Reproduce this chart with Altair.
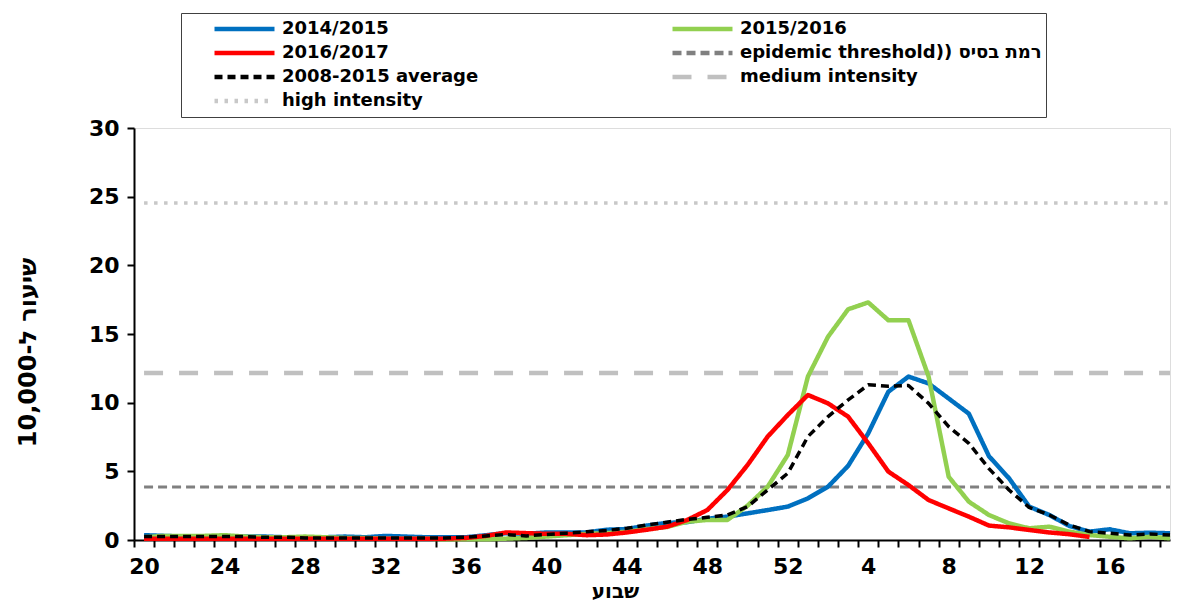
import json
import altair as alt
import pandas as pd

# ---- data ----
weeks = list(range(20, 53)) + list(range(1, 20))          # 52 ISO weeks, season order
tick_weeks = [20, 24, 28, 32, 36, 40, 44, 48, 52, 4, 8, 12, 16]
y_ticks = [0, 5, 10, 15, 20, 25, 30]

names = ["2014/2015", "2015/2016", "2016/2017",
         "epidemic threshold)) רמת בסיס", "2008-2015 average",
         "medium intensity", "high intensity"]
colors = ["#0070C0", "#92D050", "#FF0000", "#808080", "#000000", "#C0C0C0", "#C8C8C8"]
dashes = [[1, 0], [1, 0], [1, 0], [9, 5], [8, 5], [19, 16], [3.5, 6.5]]
widths = [4.5, 4.5, 4.5, 3, 3.5, 4.5, 3.5]

s2014_2015 = [0.35, 0.3, 0.25, 0.15, 0.15, 0.25, 0.25, 0.2, 0.2, 0.2, 0.25, 0.2, 0.3, 0.25, 0.2, 0.2, 0.2,
              0.35, 0.5, 0.45, 0.55, 0.55, 0.55, 0.75, 0.8, 1.05, 1.25, 1.3,
              1.55, 1.7, 1.94, 2.18, 2.43, 3.03, 3.88, 5.4, 7.77, 10.8, 11.9, 11.4, 10.3, 9.2, 6.1,
              4.49, 2.43, 1.82, 1.02, 0.61, 0.78, 0.49, 0.53, 0.49]
s2015_2016 = [0.2, 0.3, 0.3, 0.3, 0.35, 0.25, 0.2, 0.2, 0.25, 0.2, 0.15, 0.15, 0.1, 0.1, 0.1, 0.05, 0.05,
              0.05, 0.1, 0.15, 0.25, 0.35, 0.45, 0.5, 0.6, 0.8, 0.95, 1.33,
              1.46, 1.46, 2.5, 3.88, 6.19, 11.9, 14.8, 16.8, 17.3, 16.0, 16.0, 11.9, 4.6, 2.79, 1.82,
              1.21, 0.85, 0.97, 0.61, 0.36, 0.24, 0.12, 0.24, 0.12]
s2016_2017 = [0.1, 0.1, 0.1, 0.1, 0.1, 0.1, 0.1, 0.1, 0.1, 0.1, 0.1, 0.1, 0.1, 0.1, 0.1, 0.1, 0.15,
              0.3, 0.55, 0.5, 0.45, 0.45, 0.35, 0.4, 0.55, 0.75, 0.97, 1.46,
              2.18, 3.64, 5.46, 7.53, 9.1, 10.56, 9.95, 8.98, 7.04, 4.98, 4.0, 2.91, 2.3, 1.7, 1.05,
              0.92, 0.73, 0.55, 0.42, 0.22]
avg_2008_2015 = [0.25, 0.25, 0.25, 0.25, 0.25, 0.25, 0.2, 0.2, 0.15, 0.15, 0.15, 0.15, 0.15, 0.15, 0.15, 0.15, 0.2,
                 0.3, 0.4, 0.3, 0.4, 0.5, 0.6, 0.7, 0.85, 1.1, 1.3, 1.5,
                 1.65, 1.82, 2.43, 3.64, 4.86, 7.53, 8.98, 10.2, 11.3, 11.2, 11.25, 9.95, 8.25, 7.04, 5.2,
                 3.64, 2.38, 1.82, 1.09, 0.61, 0.49, 0.36, 0.44, 0.36]
epidemic_threshold = 3.86
medium_intensity = 12.16
high_intensity = 24.54

# ---- table ----
rows = []
def add(name, values):
    for i, v in enumerate(values):
        rows.append({"idx": i, "week": weeks[i], "value": v, "series": name})

add(names[0], s2014_2015)
add(names[1], s2015_2016)
add(names[2], s2016_2017)
add(names[3], [epidemic_threshold] * len(weeks))
add(names[4], avg_2008_2015)
add(names[5], [medium_intensity] * len(weeks))
add(names[6], [high_intensity] * len(weeks))
df = pd.DataFrame(rows)

# tick labels every 4th week, placed at category centres
lab = [str(w) if (w in tick_weeks and i % 4 == 0) else "" for i, w in enumerate(weeks)]
boundaries = [i - 0.5 for i in range(len(weeks))]

W, H = 1036, 412
x_dom = [-0.5, 51.0]
half_band = W / (x_dom[1] - x_dom[0]) / 2

FONT = "DejaVu Sans"

legend = alt.Legend(
    title=None, orient="none", legendX=47, legendY=-115, columns=2, direction="horizontal",
    symbolType="stroke", symbolSize=3600, symbolStrokeWidth=4.5, symbolOffset=27,
    clipHeight=24, rowPadding=0, columnPadding=164,
    labelFont=FONT, labelFontSize=18, labelFontWeight="bold", labelColor="black",
    labelOffset=5, labelLimit=500, padding=4,
    strokeColor="#404040", fillColor="white",
)

x_enc = alt.X("idx:Q",
              scale=alt.Scale(domain=x_dom, nice=False, zero=False),
              axis=alt.Axis(values=boundaries, labelExpr=f"{json.dumps(lab)}[round(datum.value + 0.5)]",
                            labelOffset=half_band, tickSize=7, tickWidth=2, tickColor="black",
                            domainWidth=2, domainColor="black", grid=False,
                            labelFont=FONT, labelFontSize=22, labelFontWeight="bold", labelColor="black",
                            labelPadding=9, labelOverlap=False, labelFlush=False, labelBound=False,
                            title="שבוע", titleFont=FONT, titleFontSize=20, titleFontWeight="bold",
                            titleColor="black", titleX=481, titleY=61, titleBaseline="bottom",
                            titleAlign="center"))
y_enc = alt.Y("value:Q",
              scale=alt.Scale(domain=[0, 30], nice=False),
              axis=alt.Axis(values=y_ticks, tickSize=7, tickWidth=2, tickColor="black",
                            domainWidth=2, domainColor="black", grid=False,
                            labelFont=FONT, labelFontSize=22, labelFontWeight="bold", labelColor="black",
                            labelPadding=8,
                            title="שיעור ל-10,000", titleFont=FONT, titleFontSize=24,
                            titleFontWeight="bold", titleColor="black",
                            titleX=-106, titleY=224, titleAngle=-90,
                            titleBaseline="middle", titleAlign="center"))
color_enc = alt.Color("series:N", scale=alt.Scale(domain=names, range=colors), legend=legend)
dash_enc = alt.StrokeDash("series:N", scale=alt.Scale(domain=names, range=dashes), legend=legend)

base = alt.Chart(df)
draw_order = [6, 5, 3, 0, 1, 2, 4]
layers = []
for k in draw_order:
    layers.append(
        base.transform_filter(alt.datum.series == names[k])
        .mark_line(strokeWidth=widths[k], strokeCap="butt", strokeJoin="round")
        .encode(x=x_enc, y=y_enc, color=color_enc, strokeDash=dash_enc, order="idx:Q")
    )

chart = (alt.layer(*layers)
         .properties(width=W, height=H,
                     padding={"left": 126, "top": 120, "right": 2, "bottom": 62},
                     autosize=alt.AutoSizeParams(type="none"))
         .configure_view(stroke=None)
         .configure(background="white"))

chart.save("out.html", embed_options={"renderer": "svg", "actions": False})
